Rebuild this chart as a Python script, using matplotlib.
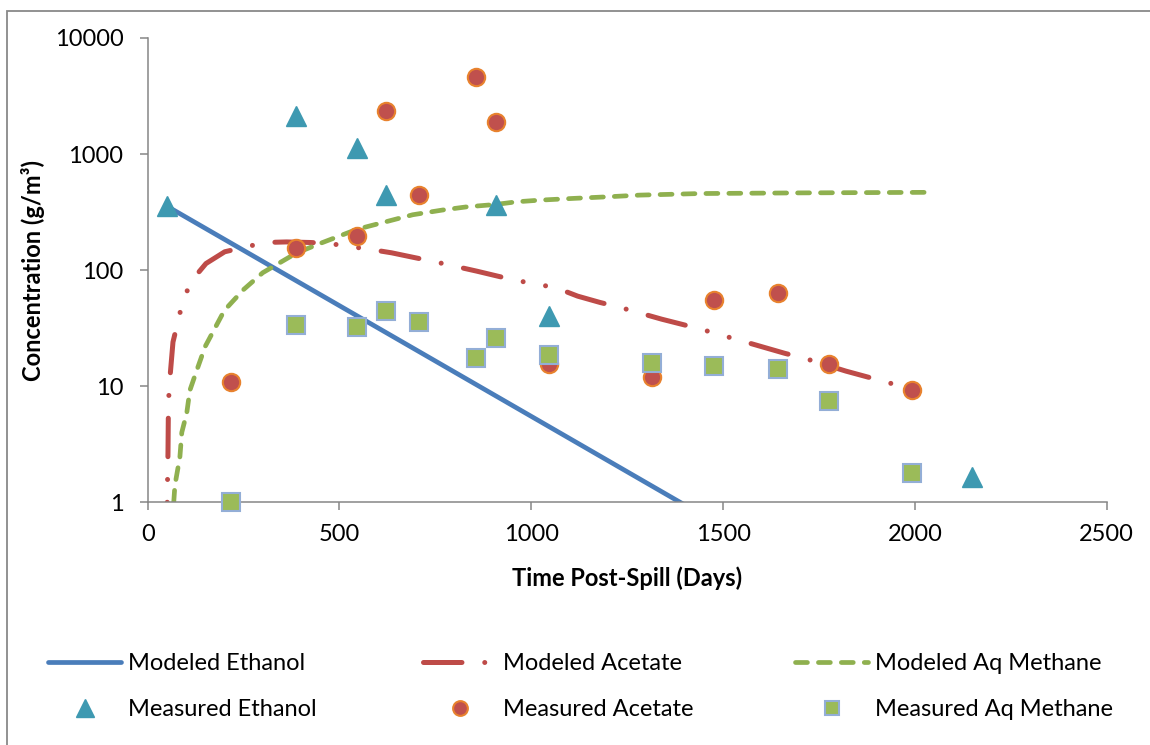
import matplotlib
matplotlib.use("Agg")
import matplotlib.pyplot as plt
from matplotlib.lines import Line2D
from matplotlib.patches import Rectangle
from matplotlib.ticker import NullLocator

# sampling days of the field measurements
ethanol_days = [50, 387, 546, 621, 907, 1046, 2148]
ethanol_meas = [356, 2130, 1128, 444, 363, 40, 1.65]

acetate_days = [217, 387, 546, 621, 707, 856, 907, 1046, 1315, 1477, 1643, 1776, 1993]
acetate_meas = [10.8, 154, 196, 2350, 444, 4610, 1890, 15.5, 12.0, 55, 63, 15.5, 9.35]

methane_days = [217, 387, 546, 621, 707, 856, 907, 1046, 1315, 1477, 1643, 1776, 1993]
methane_meas = [1.0, 33.6, 32.4, 44.4, 35.8, 17.4, 25.9, 18.5, 15.7, 14.9, 14.2, 7.5, 1.80]

# model output
ethanol_model_t = [50, 500, 1000, 1388, 1500]
ethanol_model_c = [356, 49.4, 5.5, 1.0, 0.61]

acetate_model_t = [51, 52, 53, 54, 56, 66, 91, 113, 152, 201, 306, 362, 425, 471, 580,
                   636, 692, 749, 858, 911, 957, 1064, 1121, 1179, 1233, 1340, 1395,
                   1442, 1548, 1603, 1661, 1715, 1820, 1877, 1928, 2037]
acetate_model_c = [1.0, 1.7, 2.7, 6.2, 9.8, 24, 53, 80, 114, 144, 173, 175, 173, 170, 151,
                   141, 129, 118, 98, 89, 82, 70.6, 59.7, 52.7, 47.6, 37.8, 34,
                   31, 24.6, 21.8, 19.2, 17.3, 13.5, 12.0, 10.8, 8.5]

methane_model_t = [68, 71, 84, 89, 102, 110, 128, 150, 200, 250, 300, 387, 450, 546, 691,
                   770, 832, 907, 962, 1023, 1110, 1197, 1283, 1440, 1700, 2033]
methane_model_c = [1.0, 1.4, 2.45, 4.0, 5.9, 9.2, 13.7, 22, 45, 68, 95, 140, 170, 225, 300,
                   330, 351, 368, 388, 401, 415, 428, 443, 457, 463, 468]

plt.rcParams['font.family'] = ['Lato', 'DejaVu Sans']
plt.rcParams['lines.scale_dashes'] = False

FS = 17
ACE_DASH = (27.7, 16.4, 0.01, 16.4, 27.7, 16.4, 0.01, 16.4, 0.01, 16.4)

fig = plt.figure(figsize=(11.5, 7.45), dpi=100)
ax = fig.add_axes([0.1284, 0.3258, 0.8339, 0.6232])

l_eth, = ax.plot(ethanol_model_t, ethanol_model_c, color='#4A7DBA', lw=3.4,
                 solid_capstyle='round', zorder=2)
ax.plot(acetate_model_t, acetate_model_c, color='#BE4B48', lw=3.6,
        dash_capstyle='round', zorder=2, linestyle=(104.6, ACE_DASH))
l_met, = ax.plot(methane_model_t, methane_model_c, color='#8FB04F', lw=3.4,
                 dash_capstyle='round', zorder=2, linestyle=(0, (8.6, 7.9)))

m_eth, = ax.plot(ethanol_days, ethanol_meas, ls='none', marker='^', ms=15,
                 mfc='#3E99B1', mec='#3E99B1', mew=1, zorder=3, clip_on=False)
m_ace, = ax.plot(acetate_days, acetate_meas, ls='none', marker='o', ms=12.5,
                 mfc='#C0504D', mec='#E8822E', mew=1.5, zorder=4, clip_on=False)
m_met, = ax.plot(methane_days, methane_meas, ls='none', marker='s', ms=12.5,
                 mfc='#9BBB59', mec='#93AED6', mew=1.5, zorder=5, clip_on=False)

# legend key for acetate starts on the long dash
l_ace = Line2D([], [], color='#BE4B48', lw=3.6, dash_capstyle='round',
               linestyle=(0, ACE_DASH))

ax.set_yscale('log')
ax.set_xlim(0, 2500)
ax.set_ylim(1, 10000)
ax.set_xticks([0, 500, 1000, 1500, 2000, 2500])
ax.set_yticks([1, 10, 100, 1000, 10000])
ax.set_yticklabels(['1', '10', '100', '1000', '10000'])
ax.yaxis.set_minor_locator(NullLocator())

for side in ['top', 'right']:
    ax.spines[side].set_visible(False)
for side in ['left', 'bottom']:
    ax.spines[side].set_color('#868686')
    ax.spines[side].set_linewidth(1.1)
ax.tick_params(axis='both', direction='out', length=5.5, width=1.1,
               color='#868686', labelsize=FS, labelcolor='black')
ax.tick_params(axis='y', pad=12)
ax.tick_params(axis='x', pad=10)

ax.set_xlabel('Time Post-Spill (Days)', fontsize=FS, fontweight='bold', va='center')
ax.xaxis.set_label_coords(0.5, -0.163)
ax.set_ylabel('Concentration (g/m³)', fontsize=FS, fontweight='bold', va='center')
ax.yaxis.set_label_coords(-0.1196, 0.5)

# legend: three columns, modeled on top row, measured below
cols = [(l_eth, m_eth, 'Modeled Ethanol', 'Measured Ethanol', 0.0417),
        (l_ace, m_ace, 'Modeled Acetate', 'Measured Acetate', 0.3678),
        (l_met, m_met, 'Modeled Aq Methane', 'Measured Aq Methane', 0.6913)]
for line, mark, lab1, lab2, x in cols:
    fig.legend([line, mark], [lab1, lab2], loc='upper left', bbox_to_anchor=(x, 0.123),
               frameon=False, fontsize=FS, handlelength=3.1, handletextpad=0.28,
               labelspacing=1.05, borderpad=0, borderaxespad=0, markerscale=0.85,
               numpoints=1)

# chart area border
fig.add_artist(Rectangle((6.7 / 1150, -0.1), 1.2, 1.1 - 11 / 745, transform=fig.transFigure,
                         fill=False, edgecolor='#898989', lw=1.3))

fig.savefig('out.png', dpi=100)
